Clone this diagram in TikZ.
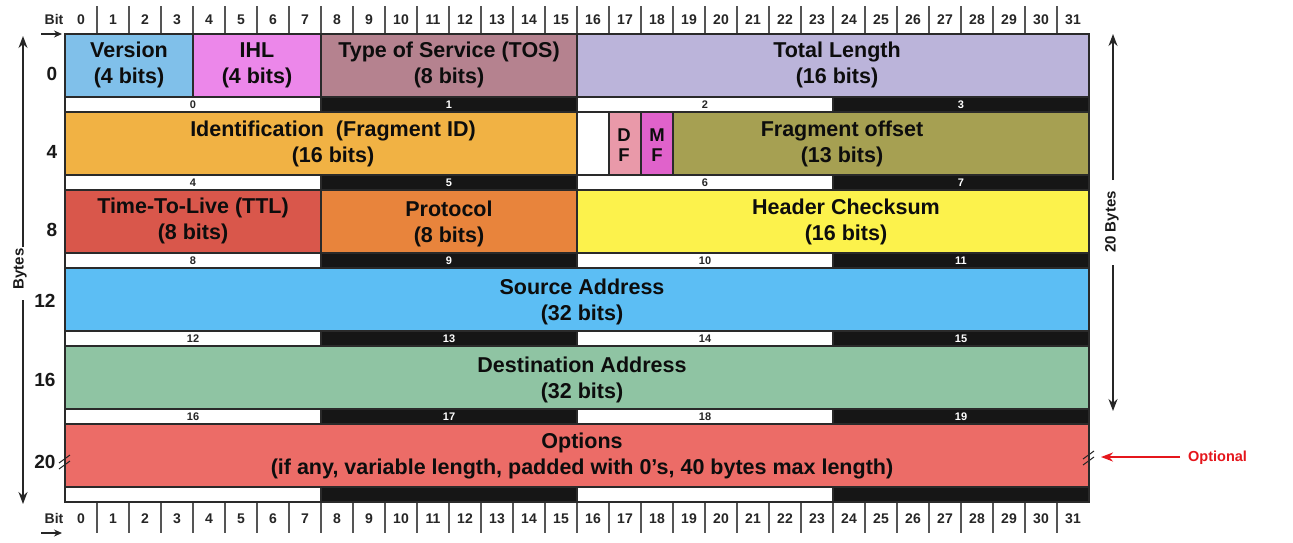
\documentclass[tikz,border=0pt]{standalone}
\usepackage{fontspec}
\setmainfont{Liberation Sans}
\usetikzlibrary{arrows.meta}
\definecolor{cVer}{HTML}{80C0EA}
\definecolor{cIHL}{HTML}{EC87EA}
\definecolor{cTOS}{HTML}{B5828F}
\definecolor{cTL}{HTML}{BBB4DA}
\definecolor{cID}{HTML}{F1B244}
\definecolor{cDF}{HTML}{E999A9}
\definecolor{cMF}{HTML}{E062CB}
\definecolor{cFO}{HTML}{A6A052}
\definecolor{cTTL}{HTML}{D9574B}
\definecolor{cPR}{HTML}{E8843C}
\definecolor{cHC}{HTML}{FCF24C}
\definecolor{cSA}{HTML}{5CBEF4}
\definecolor{cDA}{HTML}{8FC4A3}
\definecolor{cOP}{HTML}{EC6C67}
\definecolor{cLine}{HTML}{2A2A2A}
\definecolor{cStrip}{HTML}{161616}
\definecolor{cTick}{HTML}{555555}
\definecolor{cOpt}{HTML}{E5161C}
\begin{document}
\begin{tikzpicture}[x=1pt,y=-1pt,
  field/.style={draw=cLine, line width=1.3pt},
  lab/.style={font=\fontsize{21.5}{26}\selectfont\bfseries, align=center, inner sep=0pt, text=black!95},
  flag/.style={font=\fontsize{18.5}{20}\selectfont\bfseries, align=center, inner sep=0pt, text=black!95},
  hnum/.style={font=\fontsize{14}{14}\selectfont\bfseries, text=black!85, inner sep=0pt},
  snum/.style={font=\fontsize{11}{11}\selectfont\bfseries, inner sep=0pt},
  rlab/.style={font=\fontsize{19}{19}\selectfont\bfseries, text=black!90, inner sep=0pt},
  axlab/.style={font=\fontsize{15}{15}\selectfont\bfseries, text=black!90, inner sep=0pt, rotate=90},
  axarrow/.style={line width=1.4pt, draw=black!85, -{Stealth[length=12pt,width=9pt]}},
  bitarrow/.style={line width=1.2pt, draw=black!85, -{Stealth[length=8pt,width=7pt]}},
  tick/.style={draw=cTick, line width=1.5pt},
  brk/.style={draw=black!85, line width=1pt}
]
\useasboundingbox (0,0) rectangle (1293,542);
\fill[white] (0,0) rectangle (1293,542);

% ---------- header ticks and bit numbers ----------
\foreach \k in {1,...,31}{
  \draw[tick] (65+32*\k,6) -- (65+32*\k,34);
  \draw[tick] (65+32*\k,503) -- (65+32*\k,533);
}
\foreach \k in {0,...,31}{
  \node[hnum] (ht\k) at (81+32*\k,20) {\k};
  \node[hnum] (hb\k) at (81+32*\k,519) {\k};
}
\node[hnum] (bitT) at (54,19) {Bit};
\node[hnum] (bitB) at (54,518) {Bit};
\coordinate (bta) at (41,34); \coordinate (btb) at (62,34);
\coordinate (bba) at (41,533); \coordinate (bbb) at (62,533);
\draw[bitarrow] (bta) -- (btb);
\draw[bitarrow] (bba) -- (bbb);

% ---------- fields ----------
% row 0
\filldraw[field, fill=cVer] (65,34) rectangle (193,97);
\filldraw[field, fill=cIHL] (193,34) rectangle (321,97);
\filldraw[field, fill=cTOS] (321,34) rectangle (577,97);
\filldraw[field, fill=cTL] (577,34) rectangle (1089,97);
% row 1
\filldraw[field, fill=cID] (65,112) rectangle (577,175);
\filldraw[field, fill=white] (577,112) rectangle (609,175);
\filldraw[field, fill=cDF] (609,112) rectangle (641,175);
\filldraw[field, fill=cMF] (641,112) rectangle (673,175);
\filldraw[field, fill=cFO] (673,112) rectangle (1089,175);
% row 2
\filldraw[field, fill=cTTL] (65,190) rectangle (321,253);
\filldraw[field, fill=cPR] (321,190) rectangle (577,253);
\filldraw[field, fill=cHC] (577,190) rectangle (1089,253);
% row 3
\filldraw[field, fill=cSA] (65,268) rectangle (1089,331);
% row 4
\filldraw[field, fill=cDA] (65,346) rectangle (1089,409);
% row 5
\filldraw[field, fill=cOP] (65,424) rectangle (1089,487);

% ---------- byte strips ----------
\foreach \r in {0,...,5}{
  \foreach \k in {0,...,3}{
    \pgfmathtruncatemacro\n{4*\r+\k}
    \pgfmathtruncatemacro\od{mod(\k,2)}
    \pgfmathsetmacro\cx{193+256*\k}
    \pgfmathsetmacro\cy{104.5+78*\r}
    \ifnum\od=1
      \filldraw[draw=cLine, line width=1.3pt, fill=cStrip] (\cx-128,\cy-7.5) rectangle (\cx+128,\cy+7.5);
      \ifnum\r<5 \node[snum, text=white] (b\n) at (\cx,\cy) {\n}; \fi
    \else
      \filldraw[draw=cLine, line width=1.3pt, fill=white] (\cx-128,\cy-7.5) rectangle (\cx+128,\cy+7.5);
      \ifnum\r<5 \node[snum, text=black!85] (b\n) at (\cx,\cy) {\n}; \fi
    \fi
  }
}

% ---------- field labels ----------
\node[lab] (ver) at (129,65) {Version\\(4 bits)};
\node[lab] (ihl) at (257,65) {IHL\\(4 bits)};
\node[lab] (tos) at (449,65) {Type of Service (TOS)\\(8 bits)};
\node[lab] (tl) at (837,65) {Total Length\\(16 bits)};
\node[lab] (id) at (333,144) {Identification\ \ (Fragment ID)\\(16 bits)};
\node[flag] (df) at (624,145) {D\\F};
\node[flag] (mf) at (657,145) {M\\F};
\node[lab] (fo) at (842,144) {Fragment offset\\(13 bits)};
\node[lab] (ttl) at (193,221) {Time-To-Live (TTL)\\(8 bits)};
\node[lab] (pr) at (449,224) {Protocol\\(8 bits)};
\node[lab] (hc) at (846,222) {Header Checksum\\(16 bits)};
\node[lab] (sa) at (582,302) {Source Address\\(32 bits)};
\node[lab] (da) at (582,380) {Destination Address\\(32 bits)};
\node[lab] (op) at (582,456) {Options\\(if any, variable length, padded with 0’s, 40 bytes max length)};

% ---------- row labels ----------
\node[rlab] (r0) at (52,74) {0};
\node[rlab] (r4) at (52,152) {4};
\node[rlab] (r8) at (52,230) {8};
\node[rlab] (r12) at (45,301) {12};
\node[rlab] (r16) at (45,380) {16};
\node[rlab] (r20) at (45,462) {20};

% break marks
\draw[brk] (59,463) -- (70,455);
\draw[brk] (59,469) -- (70,461);
\draw[brk] (1083,459) -- (1094,451);
\draw[brk] (1083,465) -- (1094,457);

% ---------- left axis ----------
\node[axlab] (bytesL) at (20,269) {Bytes};
\coordinate (lTop) at (23,36);
\coordinate (lBot) at (23,504);
\coordinate (lg1) at (23,247);
\coordinate (lg2) at (23,300);
\draw[axarrow] (lg1) -- (lTop);
\draw[axarrow] (lg2) -- (lBot);

% ---------- right axis ----------
\node[axlab] (bytesR) at (1112,222) {20 Bytes};
\coordinate (rTop) at (1113,34);
\coordinate (rBot) at (1113,411);
\coordinate (rg1) at (1113,180);
\coordinate (rg2) at (1113,265);
\draw[axarrow] (rg1) -- (rTop);
\draw[axarrow] (rg2) -- (rBot);

% ---------- optional ----------
\node[font=\fontsize{14.5}{14.5}\selectfont\bfseries, text=cOpt, inner sep=0pt, anchor=west] (optional) at (1188,458) {Optional};
\coordinate (optTip) at (1101,457);
\draw[line width=2pt, draw=cOpt, -{Stealth[length=12pt,width=9pt]}] (optional.west) ++(-8,-1) -- (optTip);
\end{tikzpicture}
\end{document}
